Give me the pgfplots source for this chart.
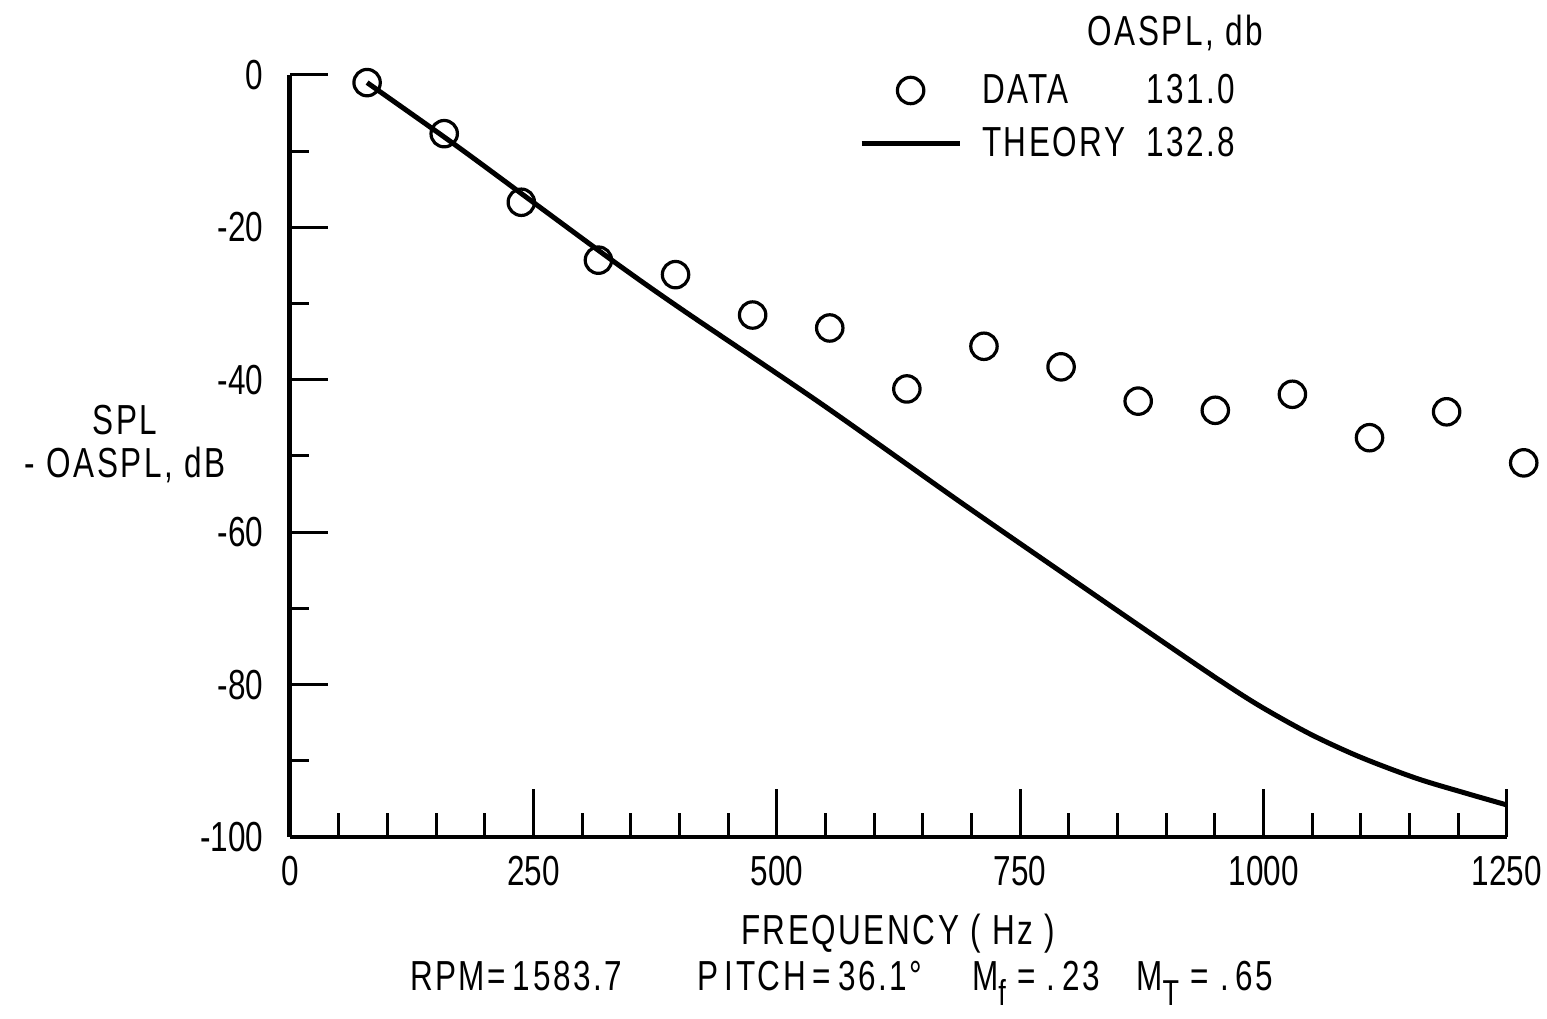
\documentclass[border=0pt]{standalone}
\usepackage{fontspec}
\setmainfont{Liberation Sans}[FakeStretch=0.75]
\newfontfamily\spaced{Liberation Sans}[FakeStretch=0.75, LetterSpace=6]
\usepackage{pgfplots}
\pgfplotsset{compat=1.18}
\pgfplotsset{
  mylineleg/.style={legend image code/.code={\draw[##1] (0pt,0pt) -- (24.5pt,0pt);}},
  mymarkleg/.style={legend image code/.code={\draw[mark repeat=2,mark phase=2,##1] plot coordinates {(0pt,0pt) (12.25pt,0pt) (24.5pt,0pt)};}},
}
\begin{document}
\fontsize{10.5pt}{12.6pt}\selectfont
\begin{tikzpicture}
\begin{axis}[name=ax, scale only axis, width=304.25pt, height=190.5pt,
  xmin=0, xmax=1250, ymin=-100, ymax=0, clip=false,
  axis x line*=bottom, hide y axis,
  x axis line style={-, line width=0.9pt},
  xtick={0,250,500,750,1000,1250}, xticklabels={0,250,500,750,1000,1250},
  minor xtick={50,100,150,200,300,350,400,450,550,600,650,700,800,850,900,950,1050,1100,1150,1200},
  tick align=inside, major tick length=12pt, minor tick length=6pt,
  every tick/.style={black, line width=0.75pt},
  xticklabel style={yshift=-1pt},
  legend style={draw=none, fill=none, at={(rel axis cs:0.467,1.005)}, anchor=north west,
    inner sep=0pt, row sep=4pt, column sep=5pt,
    nodes={inner sep=0pt, text height=8pt, text depth=1.25pt, font=\spaced}},
  legend cell align=left]
\addplot[mymarkleg, only marks, mark=o, mark size=3.3pt, mark options={line width=0.8pt, fill=white}]
coordinates {
(79.2,-1.0) (158.4,-7.7) (237.6,-16.7) (316.8,-24.3) (396.0,-26.2) (475.2,-31.5)
(554.4,-33.2) (633.6,-41.2) (712.8,-35.6) (792.0,-38.3) (871.2,-42.8) (950.4,-44.0)
(1029.6,-41.9) (1108.8,-47.6) (1188.0,-44.2) (1267.2,-50.9)};
\addlegendentry{\makebox[41pt][l]{DATA}131.0}
\addplot[mylineleg, smooth, line width=1.25pt]
coordinates {
(79.2,-1.0) (170,-9.2) (254,-17.1) (336,-24.8) (404,-30.9) (544,-43.0) (688,-56.0)
(800,-65.9) (883,-73.2) (952,-79.2) (996,-82.8) (1048,-86.5) (1099,-89.5)
(1157,-92.3) (1209,-94.3) (1250,-95.8)};
\addlegendentry{\makebox[41pt][l]{THEORY}132.8}
\node[anchor=east, font=\spaced] at (rel axis cs:0.8118,1.055) {OASPL,\ db};
\node[align=center, font=\spaced] at (rel axis cs:-0.1356,0.5157) {SPL\\[-2pt]-\ OASPL,\ dB};
\node[anchor=base, font=\spaced] at (rel axis cs:0.4996,-0.1417) {FREQUENCY ( Hz )};
\node[anchor=base, font=\spaced] at (rel axis cs:0.1857,-0.2008) {RPM=\,1583.7};
\node[anchor=base, font=\spaced] at (rel axis cs:0.4273,-0.2008) {P\hspace{1.5pt}ITCH\,=\,36.1°};
\node[anchor=base, font=\spaced] at (rel axis cs:0.6130,-0.2008) {M\raisebox{-0.7ex}{\small f}\ =\ .\,23};
\node[anchor=base, font=\spaced] at (rel axis cs:0.7518,-0.2008) {M\raisebox{-0.7ex}{\small T}\ =\ .\,65};
\end{axis}
\begin{axis}[scale only axis, width=304.25pt, height=190.5pt,
  xmin=0, xmax=1250, ymin=-100, ymax=0,
  axis y line*=left, hide x axis,
  y axis line style={-, line width=1.25pt},
  ytick={-100,-80,-60,-40,-20,0}, yticklabels={-100,-80,-60,-40,-20,0},
  minor ytick={-90,-70,-50,-30,-10},
  tick align=inside, major tick length=9.5pt, minor tick length=4.75pt,
  every tick/.style={black, line width=0.75pt},
  yticklabel style={xshift=-3pt}]
\end{axis}
\pgfresetboundingbox
\path[use as bounding box] ([xshift=-72.5pt,yshift=-45.5pt]ax.south west) rectangle ([xshift=10pt,yshift=18.75pt]ax.north east);
\end{tikzpicture}
\end{document}
